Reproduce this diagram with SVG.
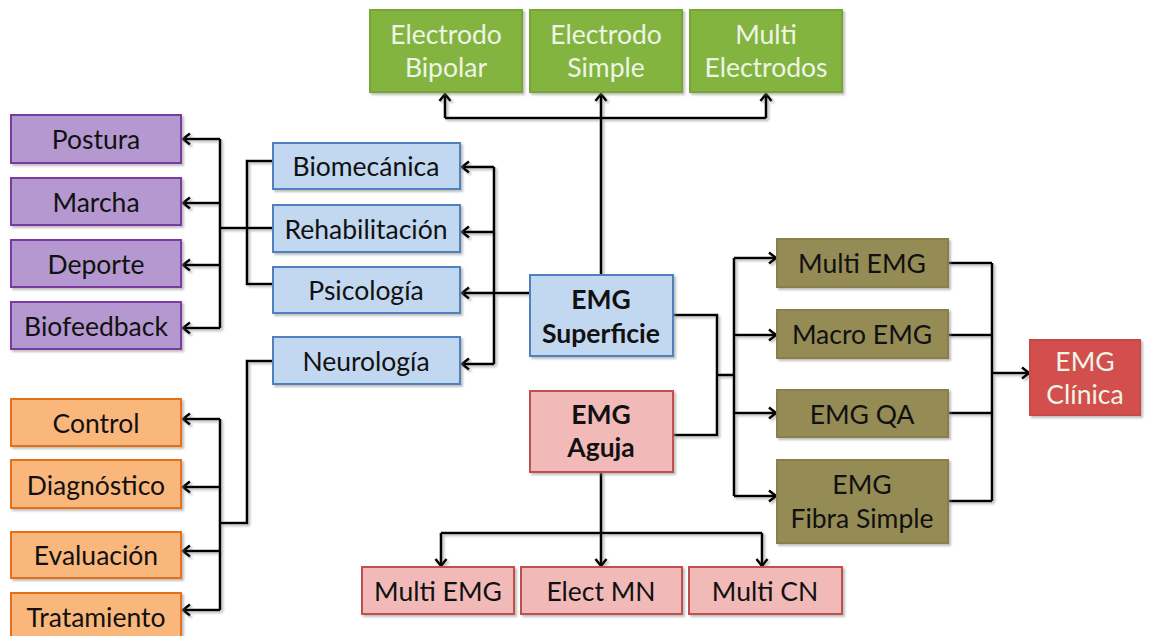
<svg xmlns="http://www.w3.org/2000/svg" width="1153" height="636" viewBox="0 0 1153 636">
  <defs>
    <marker id="arrow" markerUnits="userSpaceOnUse" markerWidth="14" markerHeight="14" refX="10" refY="7" orient="auto">
      <path d="M3,1.5 L10,7 L3,12.5" fill="none" stroke="#000" stroke-width="2.6" stroke-linejoin="miter"/>
    </marker>
    <filter id="shadow" x="-5%" y="-5%" width="115%" height="115%">
      <feDropShadow dx="2" dy="2" stdDeviation="0.8" flood-color="#888" flood-opacity="0.55"/>
    </filter>
  </defs>
  <style>
    text { font-family: Lato, "Open Sans", "Liberation Sans", sans-serif; font-size: 26.5px; text-anchor: middle; fill: #111; }
    .light { fill: #eef5e6; }
    .bold { font-weight: bold; }
    .box { stroke-width: 2; filter: url(#shadow); }
    .green { fill: #84b43f; stroke: #78a636; }
    .purple { fill: #b498cf; stroke: #7a3a9e; }
    .blue { fill: #c2d7f0; stroke: #4f81bd; }
    .orange { fill: #fab77c; stroke: #e5701a; }
    .pink { fill: #f2b9b9; stroke: #c0504d; }
    .olive { fill: #958b55; stroke: #8a7f4c; }
    .red { fill: #d24f4e; stroke: #c84a48; }
    .conn path { fill: none; stroke: #000; stroke-width: 2.6; }
    .conn { filter: url(#shadow); }
  </style>

  <rect width="1153" height="636" fill="#fff"/>

  <!-- connectors -->
  <g id="connectors" class="conn">
    <!-- surface EMG to electrode types -->
    <path d="M601,275 V94" marker-end="url(#arrow)"/>
    <path d="M445,118 H766"/>
    <path d="M445,118 V94" marker-end="url(#arrow)"/>
    <path d="M766,118 V94" marker-end="url(#arrow)"/>
    <!-- surface EMG to application areas -->
    <path d="M530,293 H494"/>
    <path d="M494,167 V364"/>
    <path d="M494,167 H462" marker-end="url(#arrow)"/>
    <path d="M494,232 H462" marker-end="url(#arrow)"/>
    <path d="M494,293 H462" marker-end="url(#arrow)"/>
    <path d="M494,364 H462" marker-end="url(#arrow)"/>
    <!-- areas to uses -->
    <path d="M273,161 H247 V284 H273"/>
    <path d="M273,228 H220"/>
    <path d="M220,139 V328"/>
    <path d="M220,139 H183" marker-end="url(#arrow)"/>
    <path d="M220,203 H183" marker-end="url(#arrow)"/>
    <path d="M220,265 H183" marker-end="url(#arrow)"/>
    <path d="M220,328 H183" marker-end="url(#arrow)"/>
    <!-- neurology to clinical tasks -->
    <path d="M273,361 H247 V523 H220"/>
    <path d="M220,419 V610"/>
    <path d="M220,419 H183" marker-end="url(#arrow)"/>
    <path d="M220,487 H183" marker-end="url(#arrow)"/>
    <path d="M220,551 H183" marker-end="url(#arrow)"/>
    <path d="M220,610 H183" marker-end="url(#arrow)"/>
    <!-- surface + needle to techniques -->
    <path d="M673,315 H717 V435 H673"/>
    <path d="M717,375 H734"/>
    <path d="M734,258 V496"/>
    <path d="M734,258 H776" marker-end="url(#arrow)"/>
    <path d="M734,335 H776" marker-end="url(#arrow)"/>
    <path d="M734,413 H776" marker-end="url(#arrow)"/>
    <path d="M734,496 H776" marker-end="url(#arrow)"/>
    <!-- techniques to clinical EMG -->
    <path d="M948,263 H992"/>
    <path d="M948,335 H992"/>
    <path d="M948,413 H992"/>
    <path d="M948,501 H992"/>
    <path d="M992,263 V501"/>
    <path d="M992,373 H1029" marker-end="url(#arrow)"/>
    <!-- needle EMG to electrode types -->
    <path d="M601,472 V566" marker-end="url(#arrow)"/>
    <path d="M441,533 H762"/>
    <path d="M441,533 V566" marker-end="url(#arrow)"/>
    <path d="M762,533 V566" marker-end="url(#arrow)"/>
  </g>

  <!-- electrode types -->
  <g id="electrodo-bipolar">
    <rect class="box green" x="370" y="10" width="152" height="82"/>
    <text class="light" x="446" y="44">Electrodo</text>
    <text class="light" x="446" y="77">Bipolar</text>
  </g>
  <g id="electrodo-simple">
    <rect class="box green" x="530" y="10" width="152" height="82"/>
    <text class="light" x="606" y="44">Electrodo</text>
    <text class="light" x="606" y="77">Simple</text>
  </g>
  <g id="multi-electrodos">
    <rect class="box green" x="690" y="10" width="152" height="82"/>
    <text class="light" x="766" y="44">Multi</text>
    <text class="light" x="766" y="77">Electrodos</text>
  </g>

  <!-- uses -->
  <g id="postura">
    <rect class="box purple" x="11" y="115" width="170" height="48"/>
    <text x="96" y="149">Postura</text>
  </g>
  <g id="marcha">
    <rect class="box purple" x="11" y="178" width="170" height="47"/>
    <text x="96" y="212">Marcha</text>
  </g>
  <g id="deporte">
    <rect class="box purple" x="11" y="240" width="170" height="47"/>
    <text x="96" y="274">Deporte</text>
  </g>
  <g id="biofeedback">
    <rect class="box purple" x="11" y="302" width="170" height="47"/>
    <text x="96" y="336">Biofeedback</text>
  </g>

  <!-- application areas -->
  <g id="biomecanica">
    <rect class="box blue" x="273" y="143" width="187" height="46"/>
    <text x="366" y="176">Biomecánica</text>
  </g>
  <g id="rehabilitacion">
    <rect class="box blue" x="273" y="205" width="187" height="47"/>
    <text x="366" y="239">Rehabilitación</text>
  </g>
  <g id="psicologia">
    <rect class="box blue" x="273" y="267" width="187" height="46"/>
    <text x="366" y="300">Psicología</text>
  </g>
  <g id="neurologia">
    <rect class="box blue" x="273" y="337" width="187" height="47"/>
    <text x="366" y="371">Neurología</text>
  </g>

  <!-- clinical tasks -->
  <g id="control">
    <rect class="box orange" x="11" y="399" width="170" height="47"/>
    <text x="96" y="433">Control</text>
  </g>
  <g id="diagnostico">
    <rect class="box orange" x="11" y="460" width="170" height="48"/>
    <text x="96" y="495">Diagnóstico</text>
  </g>
  <g id="evaluacion">
    <rect class="box orange" x="11" y="532" width="170" height="46"/>
    <text x="96" y="565">Evaluación</text>
  </g>
  <g id="tratamiento">
    <rect class="box orange" x="11" y="593" width="170" height="50"/>
    <text x="96" y="627">Tratamiento</text>
  </g>

  <!-- main EMG types -->
  <g id="emg-superficie">
    <rect class="box blue" x="530" y="275" width="143" height="81"/>
    <text class="bold" x="601" y="309">EMG</text>
    <text class="bold" x="601" y="343">Superficie</text>
  </g>
  <g id="emg-aguja">
    <rect class="box pink" x="530" y="391" width="143" height="81"/>
    <text class="bold" x="601" y="424">EMG</text>
    <text class="bold" x="601" y="457">Aguja</text>
  </g>

  <!-- techniques -->
  <g id="multi-emg">
    <rect class="box olive" x="777" y="239" width="171" height="48"/>
    <text x="862" y="273">Multi EMG</text>
  </g>
  <g id="macro-emg">
    <rect class="box olive" x="777" y="310" width="171" height="48"/>
    <text x="862" y="344">Macro EMG</text>
  </g>
  <g id="emg-qa">
    <rect class="box olive" x="777" y="390" width="171" height="47"/>
    <text x="862" y="424">EMG QA</text>
  </g>
  <g id="emg-fibra-simple">
    <rect class="box olive" x="777" y="460" width="171" height="83"/>
    <text x="862" y="494">EMG</text>
    <text x="862" y="528">Fibra Simple</text>
  </g>

  <g id="emg-clinica">
    <rect class="box red" x="1030" y="340" width="110" height="75"/>
    <text class="light" x="1085" y="371">EMG</text>
    <text class="light" x="1085" y="404">Clínica</text>
  </g>

  <!-- needle electrode types -->
  <g id="aguja-multi-emg">
    <rect class="box pink" x="362" y="567" width="152" height="47"/>
    <text x="438" y="601">Multi EMG</text>
  </g>
  <g id="elect-mn">
    <rect class="box pink" x="521" y="567" width="161" height="47"/>
    <text x="601" y="601">Elect MN</text>
  </g>
  <g id="multi-cn">
    <rect class="box pink" x="689" y="567" width="153" height="47"/>
    <text x="765" y="601">Multi CN</text>
  </g>
</svg>
